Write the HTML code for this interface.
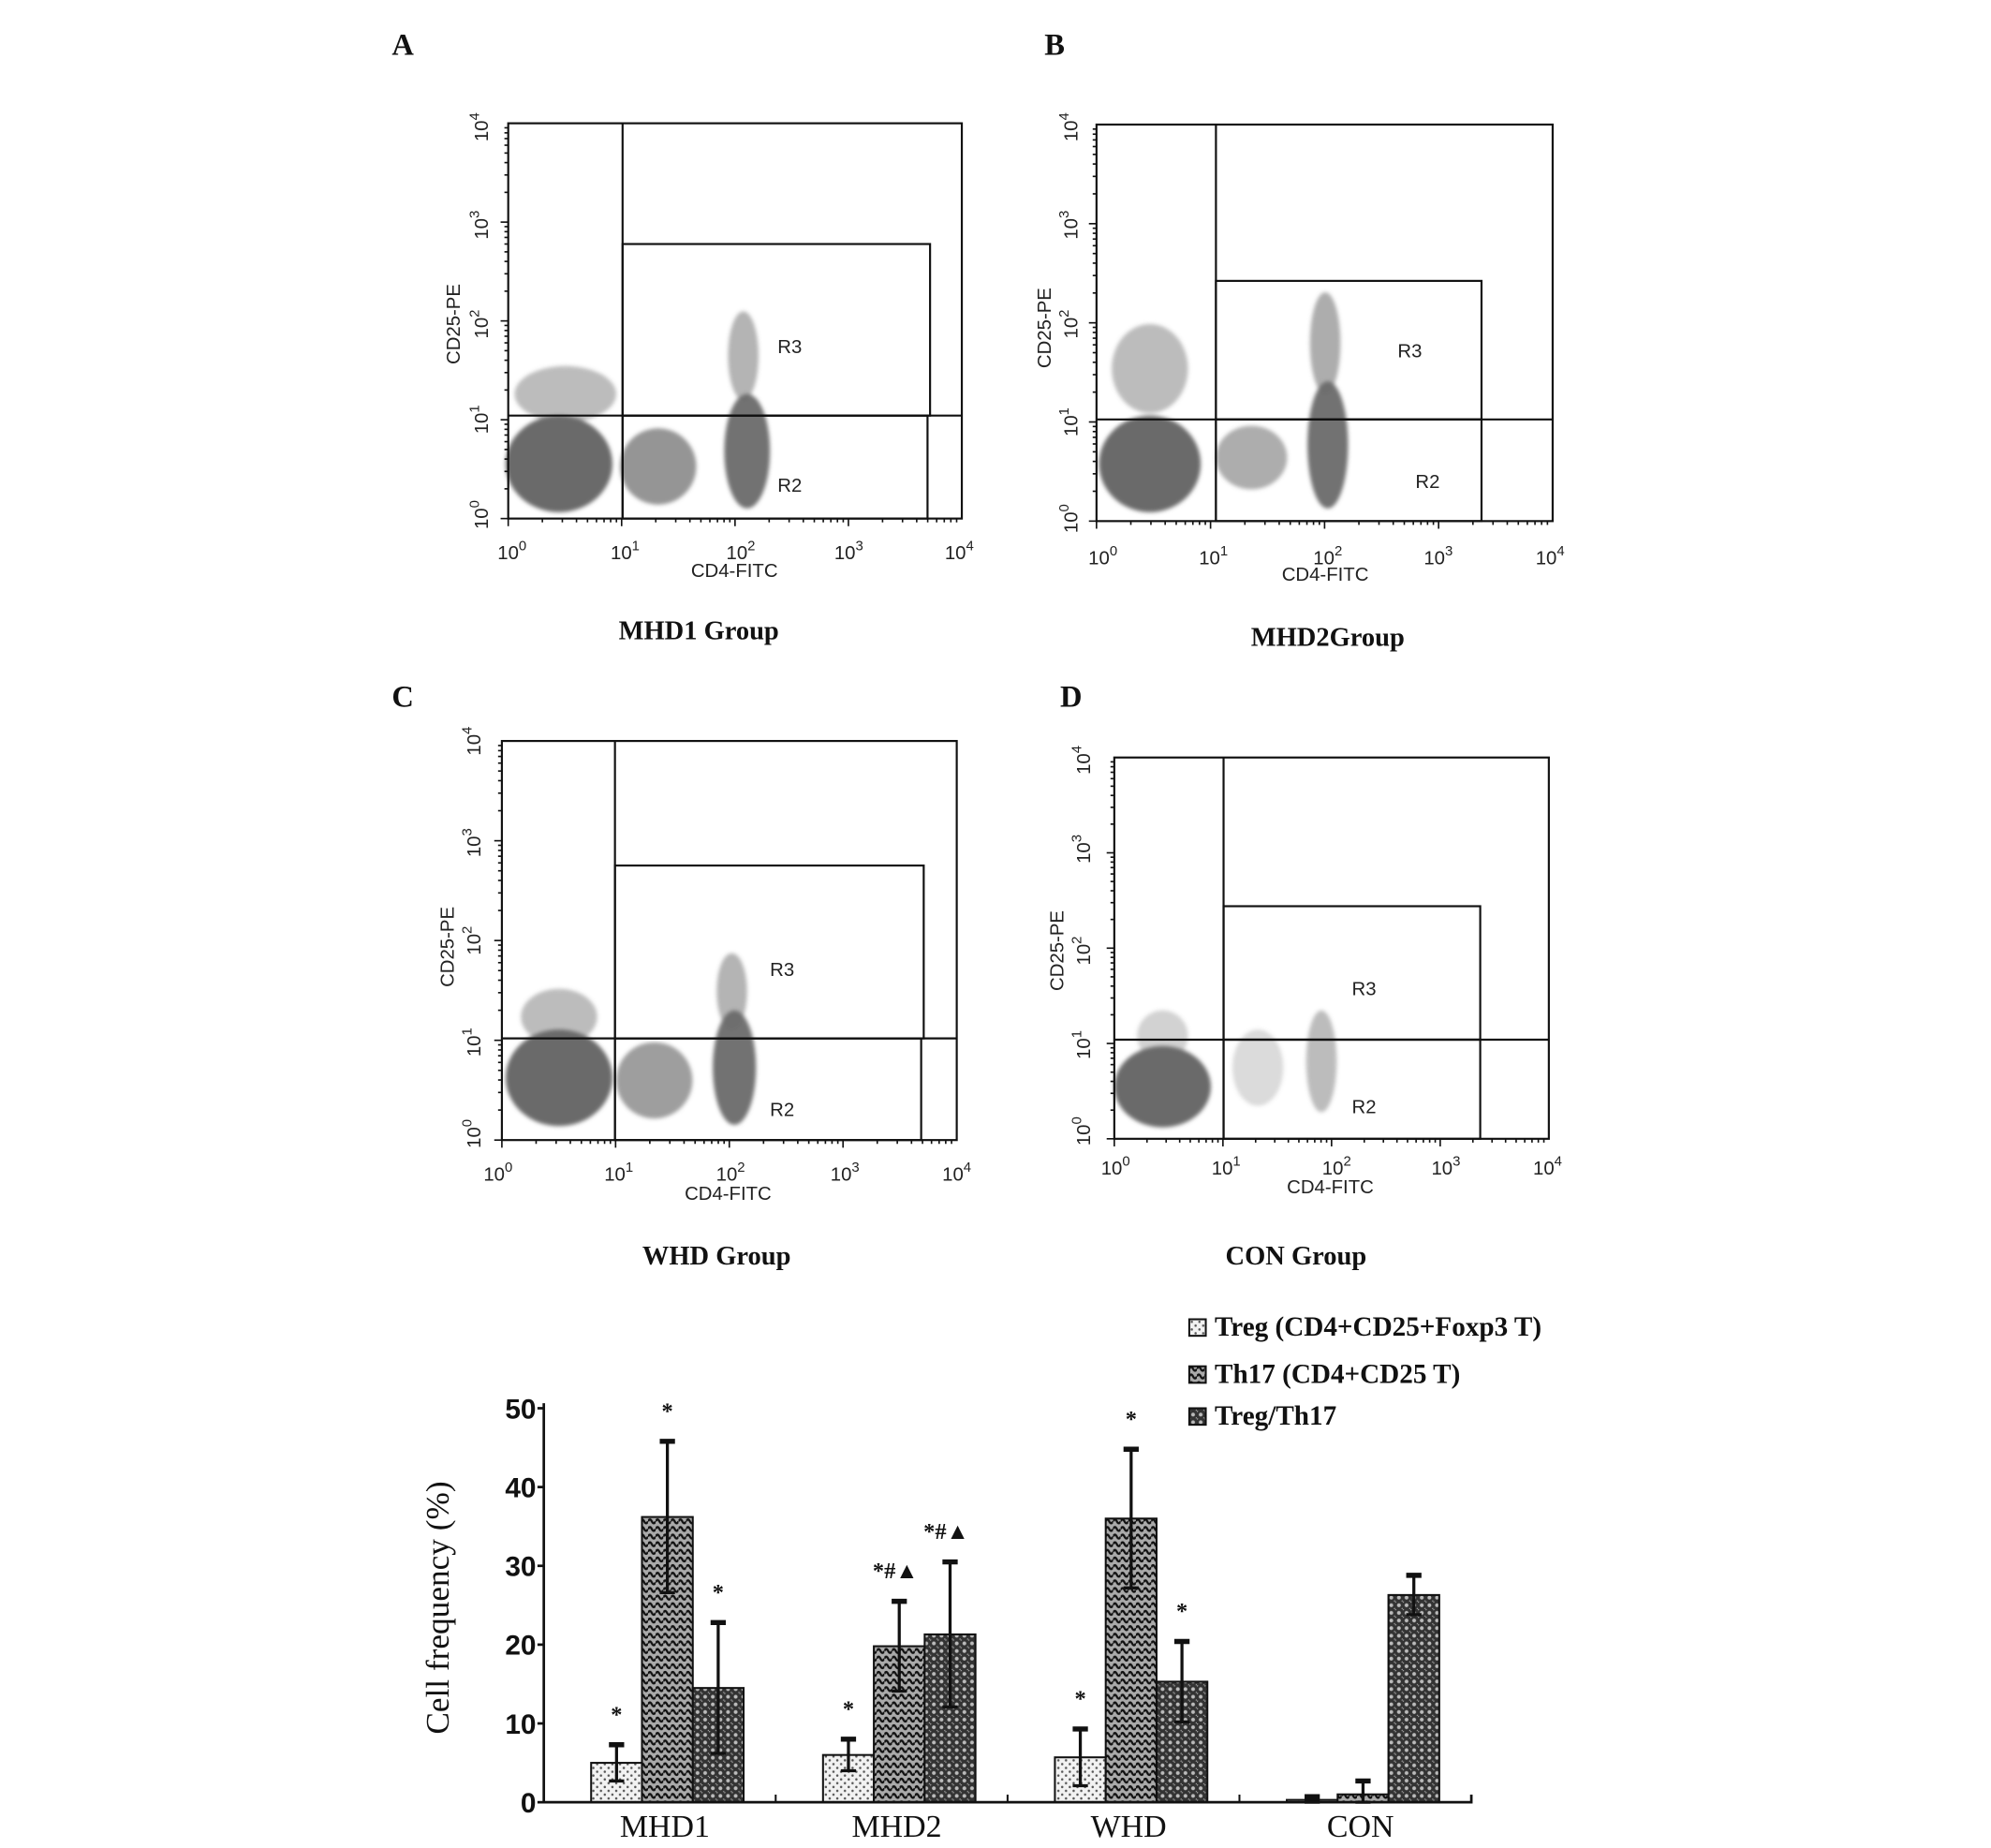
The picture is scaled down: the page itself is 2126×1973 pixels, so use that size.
<!DOCTYPE html>
<html><head><meta charset="utf-8"><style>
html,body{margin:0;padding:0;background:#fff;}
svg{display:block;}
.tk{font-family:"Liberation Sans",sans-serif;font-size:15px;fill:#222;}
.ttl{font-family:"Liberation Serif",serif;font-weight:bold;font-size:21px;fill:#111;}
.lt{font-family:"Liberation Serif",serif;font-weight:bold;font-size:24px;fill:#111;}
.g{fill:none;stroke:#111;stroke-width:1.6;}
</style></head><body>
<svg id="fig" width="2126" height="1973" viewBox="0 0 1567 1454" preserveAspectRatio="none" xmlns="http://www.w3.org/2000/svg">
<defs>
<filter id="bl"><feGaussianBlur stdDeviation="1.5"/></filter>
<pattern id="pTreg" width="6" height="6" patternUnits="userSpaceOnUse"><rect width="6" height="6" fill="#f2f2f2"/><circle cx="2" cy="2" r="0.9" fill="#555"/><circle cx="5" cy="5" r="0.9" fill="#555"/></pattern>
<pattern id="pTh17" width="6" height="6" patternUnits="userSpaceOnUse"><rect width="6" height="6" fill="#aaa"/><path d="M0 3 Q1.5 0 3 3 T6 3" stroke="#111" stroke-width="1.7" fill="none"/></pattern>
<pattern id="pRat" width="6" height="6" patternUnits="userSpaceOnUse"><rect width="6" height="6" fill="#333"/><circle cx="3" cy="3" r="1.5" fill="#bbb"/><circle cx="0" cy="0" r="1" fill="#aaa"/><circle cx="6" cy="6" r="1" fill="#aaa"/></pattern>
</defs>
<g id="panels"></g>
<g id="bar"></g>
</svg>
<script>
const NS="http://www.w3.org/2000/svg";
function mk(p,tag,at,txt){const e=document.createElementNS(NS,tag);for(const k in at)e.setAttribute(k,at[k]);if(txt!==undefined)e.textContent=txt;p.appendChild(e);return e;}
const panelDefs=[
 {L:"A",lx:317,ly:43,box:[400,97,757,408],vx:490,hy:327,r3:[490,192,732,327],r2:[490,327,730,408],r3l:[612,278],r2l:[612,387],xt:[403,492,583,668,755],xty:440,xl:[578,454],yt:[405,330,255,177,100],ytx:384,yl:[362,255],title:"MHD1 Group",tt:[550,503],
  cl:[[440,365,42,38,1],[445,310,40,22,0.45],[518,367,30,30,0.7],[588,355,18,45,0.95],[585,280,12,35,0.5]]},
 {L:"B",lx:830,ly:43,box:[863,98,1222,410],vx:957,hy:330,r3:[957,221,1166,330],r2:[957,330,1166,410],r3l:[1100,281],r2l:[1114,384],xt:[868,955,1045,1132,1220],xty:444,xl:[1043,457],yt:[408,332,255,177,100],ytx:848,yl:[827,258],title:"MHD2Group",tt:[1045,508],
  cl:[[905,365,40,38,1],[905,290,30,35,0.45],[985,360,28,25,0.55],[1045,350,16,50,0.95],[1043,270,12,40,0.55]]},
 {L:"C",lx:317,ly:556,box:[395,583,753,897],vx:484,hy:817,r3:[484,681,727,817],r2:[484,817,725,897],r3l:[606,768],r2l:[606,878],xt:[392,487,575,665,753],xty:929,xl:[573,944],yt:[892,820,740,663,583],ytx:378,yl:[357,745],title:"WHD Group",tt:[564,995],
  cl:[[440,848,42,38,1],[440,800,30,22,0.45],[515,850,30,30,0.65],[578,840,17,45,0.95],[576,780,12,30,0.5]]},
 {L:"D",lx:843,ly:556,box:[877,596,1219,896],vx:963,hy:818,r3:[963,713,1165,818],r2:[963,818,1165,896],r3l:[1064,783],r2l:[1064,876],xt:[878,965,1052,1138,1218],xty:924,xl:[1047,939],yt:[890,822,748,668,598],ytx:858,yl:[837,748],title:"CON Group",tt:[1020,995],
  cl:[[915,855,38,32,1],[915,815,20,20,0.3],[990,840,20,30,0.25],[1040,835,12,40,0.45]]}
];
const pg=document.getElementById('panels');
const exps=["0","1","2","3","4"];
panelDefs.forEach((d,i)=>{
 const g=mk(pg,'g',{});
 
 
 const lt=mk(g,'text',{x:d.lx,y:d.ly,class:'lt','text-anchor':'middle'},d.L);
 
 
 const sc=mk(g,'g',{filter:'url(#bl)'});
 
 
 d.cl.forEach(c=>mk(sc,'ellipse',{cx:c[0],cy:c[1],rx:c[2],ry:c[3],fill:'#6a6a6a','fill-opacity':c[4]}));
 const [x0,y0,x1,y1]=d.box;
 const bx=mk(g,'rect',{x:x0,y:y0,width:x1-x0,height:y1-y0,class:'g'});
 
 
 mk(g,'line',{x1:d.vx,y1:y0,x2:d.vx,y2:y1,class:'g','stroke-width':2.2});
 mk(g,'line',{x1:x0,y1:d.hy,x2:x1,y2:d.hy,class:'g','stroke-width':2.2});
 const r3=mk(g,'rect',{x:d.r3[0],y:d.r3[1],width:d.r3[2]-d.r3[0],height:d.r3[3]-d.r3[1],class:'g','stroke-width':2});
 
 
 const r2=mk(g,'rect',{x:d.r2[0],y:d.r2[1],width:d.r2[2]-d.r2[0],height:d.r2[3]-d.r2[1],class:'g','stroke-width':2});
 
 
 mk(g,'text',{x:d.r3l[0],y:d.r3l[1],class:'tk','font-size':17},'R3');
 mk(g,'text',{x:d.r2l[0],y:d.r2l[1],class:'tk','font-size':17},'R2');
 for(let k=0;k<4;k++){
  for(let m=1;m<=9;m++){const xx=x0+(x1-x0)*(k+Math.log10(m))/4;mk(g,'line',{x1:xx,y1:y1,x2:xx,y2:y1+(m==1?6:3),stroke:'#111','stroke-width':1.2});
   const yy=y1-(y1-y0)*(k+Math.log10(m))/4;mk(g,'line',{x1:x0,y1:yy,x2:x0-(m==1?6:3),y2:yy,stroke:'#111','stroke-width':1.2});}
 }
 d.xt.forEach((x,k)=>{const t=mk(g,'text',{x:x,y:d.xty,class:'tk','text-anchor':'middle'});t.textContent='10';mk(t,'tspan',{dy:-7,'font-size':11},exps[k]);});
 d.yt.forEach((y,k)=>{const t=mk(g,'text',{x:d.ytx,y:y,class:'tk','text-anchor':'middle',transform:`rotate(-90 ${d.ytx} ${y})`});t.textContent='10';mk(t,'tspan',{dy:-7,'font-size':11},exps[k]);});
 const xl=mk(g,'text',{x:d.xl[0],y:d.xl[1],class:'tk','text-anchor':'middle'},'CD4-FITC');
 
 
 const yl=mk(g,'text',{x:d.yl[0],y:d.yl[1],class:'tk','text-anchor':'middle',transform:`rotate(-90 ${d.yl[0]} ${d.yl[1]})`},'CD25-PE');
 
 
 const tt=mk(g,'text',{x:d.tt[0],y:d.tt[1],class:'ttl','text-anchor':'middle'},d.title);
 
 
});
</script>
<script>
const categories=["MHD1","MHD2","WHD","CON"];
const seriesNames=["Treg (CD4+CD25+Foxp3 T)","Th17 (CD4+CD25 T)","Treg/Th17"];
const tregValues=[5.0,6.0,5.7,0.3];
const th17Values=[36.2,19.8,36.0,1.0];
const ratioValues=[14.5,21.3,15.3,26.3];
const tregErr=[2.3,2.0,3.6,0.4];
const th17Err=[9.6,5.7,8.8,1.7];
const ratioErr=[8.3,9.2,5.1,2.5];
const tregMarks=["*","*","*",""];
const th17Marks=["*","*#▲","*",""];
const ratioMarks=["*","*#▲","*",""];
const yTicks=[0,10,20,30,40,50];
(function(){
 const bg=document.getElementById('bar');
 const X0=428,X1=1158,Y0=1418,YT=1108,yMax=50;
 const y=v=>Y0-(Y0-YT)*v/yMax;
 const groupW=(X1-X0)/categories.length;
 const cx=i=>X0+groupW*(i+0.5)+6;
 const bw=40;
 const vals=[tregValues,th17Values,ratioValues],errs=[tregErr,th17Err,ratioErr],marks=[tregMarks,th17Marks,ratioMarks],pats=['url(#pTreg)','url(#pTh17)','url(#pRat)'],keys=['treg','th17','ratio'];
 categories.forEach((c,i)=>{
  for(let s=0;s<3;s++){
   const v=vals[s][i],e=errs[s][i];const left=cx(i)-60+s*bw;
   const r=mk(bg,'rect',{x:left,y:y(v),width:bw,height:Y0-y(v),fill:pats[s],stroke:'#111','stroke-width':1.5});
   
   
   const m=left+bw/2;
   const eb=mk(bg,'g',{stroke:'#111','stroke-width':2.4});
   
   
   mk(eb,'line',{x1:m,y1:y(v+e),x2:m,y2:y(Math.max(0,v-e))});
   mk(eb,'line',{x1:m-6,y1:y(v+e),x2:m+6,y2:y(v+e),'stroke-width':4});
   mk(eb,'line',{x1:m-6,y1:y(Math.max(0,v-e)),x2:m+6,y2:y(Math.max(0,v-e))});
   if(marks[s][i]){const t=mk(bg,'text',{x:m+(marks[s][i].length>1?-3:0),y:y(v+e)-18,'text-anchor':'middle','font-family':'"Liberation Serif","DejaVu Sans",serif','font-weight':'bold','font-size':18,fill:'#111'},marks[s][i]);
    
    }
  }
  const lb=mk(bg,'text',{x:cx(i)-2,y:1445,'text-anchor':'middle','font-family':'"Liberation Serif",serif','font-size':25,fill:'#111'},c);
  
  
  if(i>0){mk(bg,'line',{x1:X0+groupW*i,y1:Y0,x2:X0+groupW*i,y2:Y0-6,stroke:'#111','stroke-width':1.5});}
 });
 const ax=mk(bg,'path',{d:`M${X0} ${YT-4} V${Y0} H${X1} V${Y0-6}`,fill:'none',stroke:'#111','stroke-width':2});
 
 
 yTicks.forEach(t=>{mk(bg,'line',{x1:X0-5,y1:y(t),x2:X0,y2:y(t),stroke:'#111','stroke-width':2});
  const tl=mk(bg,'text',{x:X0-6,y:y(t)+8,'text-anchor':'end','font-family':'"Liberation Sans",sans-serif','font-weight':'bold','font-size':22,fill:'#111'},String(t));
  
  });
 const yt=mk(bg,'text',{x:353,y:1265,'text-anchor':'middle','font-family':'"Liberation Serif",serif','font-size':26,fill:'#111',transform:'rotate(-90 353 1265)'},'Cell frequency (%)');
 
 
 const legY=[1050,1087,1120];
 seriesNames.forEach((n,s)=>{
  const lg=mk(bg,'g',{});
  
  
  mk(lg,'rect',{x:936,y:legY[s]-12,width:13,height:13,fill:pats[s],stroke:'#111','stroke-width':1.5});
  mk(lg,'text',{x:956,y:legY[s]+1,'font-family':'"Liberation Serif",serif','font-weight':'bold','font-size':21.5,fill:'#111'},n);
 });
})();
</script>
</body></html>
